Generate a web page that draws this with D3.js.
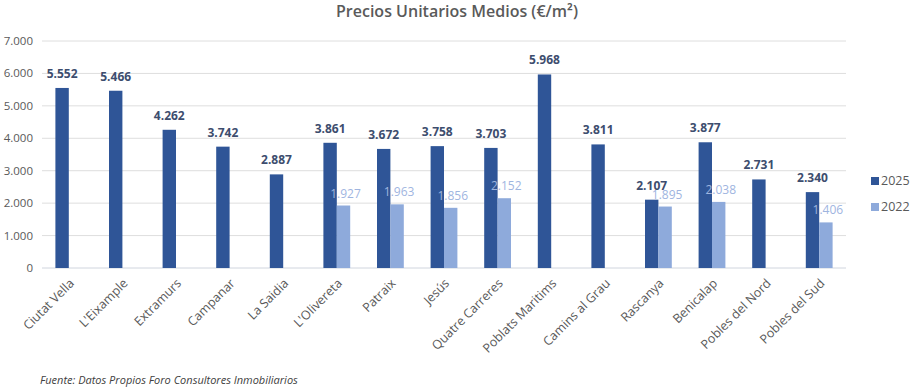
<!DOCTYPE html>
<html><head><meta charset="utf-8">
<script src="https://cdn.jsdelivr.net/npm/d3@7"></script>
<style>body{margin:0;background:#fff;} svg{display:block;font-family:"Open Sans",sans-serif;}</style>
</head><body>
<svg id="c" width="913" height="388"></svg>
<script>
const categories = ["Ciutat Vella","L'Eixample","Extramurs","Campanar","La Saidia","L'Olivereta","Patraix","Jesús","Quatre Carreres","Poblats Maritims","Camins al Grau","Rascanya","Benicalap","Pobles del Nord","Pobles del Sud"];
const series = ["2025","2022"];
const values2025 = [5552,5466,4262,3742,2887,3861,3672,3758,3703,5968,3811,2107,3877,2731,2340];
const values2022 = [null,null,null,null,null,1927,1963,1856,2152,null,null,1895,2038,null,1406];
const yTicks = [0,1000,2000,3000,4000,5000,6000,7000];
const title = "Precios Unitarios Medios (€/m²)";
const source = "Fuente: Datos Propios Foro Consultores Inmobiliarios";

const colors = {"2025":"#2f5597","2022":"#8eaadb"};
const svg = d3.select("#c");
const L=42, R=846, T=41, B=268;
const fmt = v => d3.format(",")(v).replace(/,/g,".");

const x0 = d3.scaleBand().domain(categories).range([L,R]).paddingInner(0.5).paddingOuter(0.25);
const x1 = d3.scaleBand().domain(series).range([0,x0.bandwidth()]);
const y = d3.scaleLinear().domain([0,7000]).range([B,T]);

// grid
svg.append("g").selectAll("line").data(yTicks).join("line")
  .attr("x1",L).attr("x2",R).attr("y1",d=>y(d)).attr("y2",d=>y(d))
  .attr("stroke",d=>d===0?"#d0d5de":"#dedede").attr("stroke-width",1);

// y labels
svg.append("g").selectAll("text").data(yTicks).join("text")
  .attr("x",33).attr("y",d=>y(d)).attr("dy","0.35em").attr("text-anchor","end")
  .attr("font-size",11.5).attr("fill","#595959").text(d=>fmt(d));

const rows = categories.map((c,i)=>({c, "2025":values2025[i], "2022":values2022[i]}));

// bars
series.forEach(s=>{
  svg.append("g").selectAll("rect").data(rows.filter(r=>r[s]!=null)).join("rect")
    .attr("x",r=>x0(r.c)+x1(s)).attr("width",x1.bandwidth())
    .attr("y",r=>y(r[s])).attr("height",r=>B-y(r[s]))
    .attr("fill",colors[s]);
});

// labels 2022
svg.append("g").selectAll("text").data(rows.filter(r=>r["2022"]!=null)).join("text")
  .attr("x",r=>x0(r.c)+x1("2022")+x1.bandwidth()/2+2).attr("y",r=>y(r["2022"])-8)
  .attr("text-anchor","middle").attr("font-size",12).attr("fill","#9fb5df")
  .text(r=>fmt(r["2022"]));
// labels 2025
svg.append("g").selectAll("text").data(rows).join("text")
  .attr("x",r=>x0(r.c)+x1("2025")+x1.bandwidth()/2).attr("y",r=>y(r["2025"])-10)
  .attr("text-anchor","middle").attr("font-size",12).attr("font-weight","bold").attr("fill","#3d4d6e")
  .text(r=>fmt(r["2025"]));

// x labels
svg.append("g").selectAll("text").data(categories).join("text")
  .attr("transform",c=>`translate(${x0(c)+x0.bandwidth()/2+3},281) rotate(-45)`)
  .attr("text-anchor","end").attr("dy","0.35em")
  .attr("font-size",12.5).attr("fill","#595959").text(c=>c);

// title
svg.append("text").attr("x",457).attr("y",17).attr("text-anchor","middle")
  .attr("font-size",16).attr("font-weight",600).attr("fill","#5a5a5a").text(title);

// legend
const lg = svg.append("g").selectAll("g").data(series).join("g")
  .attr("transform",(d,i)=>`translate(871,${181+i*26})`);
lg.append("rect").attr("x",0).attr("y",-4).attr("width",8).attr("height",8).attr("fill",d=>colors[d]);
lg.append("text").attr("x",10).attr("dy","0.35em").attr("font-size",12.5).attr("fill","#595959").text(d=>d);

// source
svg.append("text").attr("x",40).attr("y",384).attr("font-size",11).attr("font-style","italic")
  .attr("fill","#404040").text(source);
</script>
</body></html>
